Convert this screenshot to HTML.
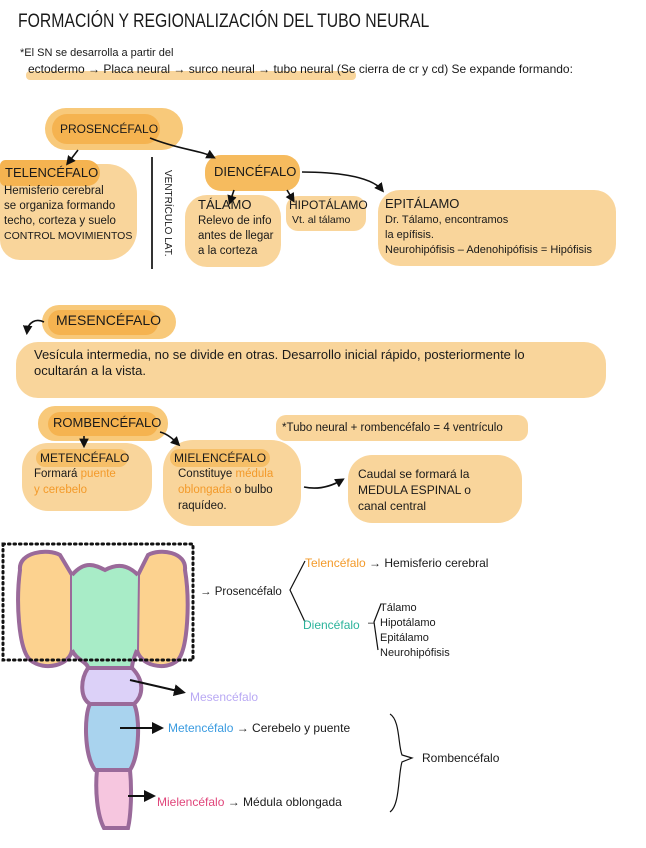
<!DOCTYPE html>
<html><head><meta charset="utf-8"><style>
body{margin:0;width:646px;height:848px;background:#fff;position:relative;overflow:hidden;font-family:"Liberation Sans Narrow","Liberation Sans",sans-serif;color:#1a1a1a}
.t{position:absolute;white-space:nowrap;font-size:11px;line-height:14px}
.b{position:absolute;background:#f9d59b}
.d{position:absolute;background:#f5b350}
svg{position:absolute;left:0;top:0}
</style></head><body>
<svg width="646" height="848">
<rect x="26" y="71" width="330" height="9" rx="4" fill="#f9d59b"/>
</svg>
<div class="t" style="left:18px;top:10px;font-size:19px;line-height:24px;transform:scaleX(0.83);transform-origin:0 0">FORMACIÓN Y REGIONALIZACIÓN DEL TUBO NEURAL</div>
<div class="t" style="left:20px;top:46px;font-size:11px">*El SN se desarrolla a partir del</div>
<div class="t" style="left:28px;top:62px;font-size:12px">ectodermo → Placa neural → surco neural → tubo neural (Se cierra de cr y cd) Se expande formando:</div>

<div class="b" style="left:45px;top:108px;width:138px;height:42px;border-radius:22px;background:#f8c97a"></div>
<div class="d" style="left:52px;top:114px;width:108px;height:30px;border-radius:16px"></div>
<div class="t" style="left:60px;top:122px;font-size:12px">PROSENCÉFALO</div>
<div class="b" style="left:0;top:164px;width:137px;height:96px;border-radius:6px 30px 30px 20px"></div>
<div class="d" style="left:0;top:160px;width:100px;height:26px;border-radius:6px 14px 14px 6px"></div>
<div class="t" style="left:5px;top:166px;font-size:13px">TELENCÉFALO</div>
<div class="t" style="left:4px;top:184px;font-size:11.5px;line-height:15px">Hemisferio cerebral<br>se organiza formando<br>techo, corteza y suelo<br><span style="font-size:10.5px">CONTROL MOVIMIENTOS</span></div>
<div style="position:absolute;left:151px;top:157px;width:2px;height:112px;background:#333"></div>
<div class="t" style="left:160px;top:170px;font-size:10px;writing-mode:vertical-rl">VENTRÍCULO LAT.</div>
<div class="d" style="left:205px;top:155px;width:95px;height:36px;border-radius:16px;background:#f6bb5e"></div>
<div class="t" style="left:214px;top:165px;font-size:13px">DIENCÉFALO</div>
<div class="b" style="left:185px;top:195px;width:96px;height:72px;border-radius:22px"></div>
<div class="t" style="left:198px;top:198px;font-size:13px">TÁLAMO</div>
<div class="t" style="left:198px;top:214px;font-size:11.5px;line-height:15px">Relevo de info<br>antes de llegar<br>a la corteza</div>
<div class="b" style="left:286px;top:196px;width:80px;height:35px;border-radius:12px"></div>
<div class="t" style="left:289px;top:198px;font-size:12px">HIPOTÁLAMO</div>
<div class="t" style="left:292px;top:213px;font-size:10.5px">Vt. al tálamo</div>
<div class="b" style="left:378px;top:190px;width:238px;height:76px;border-radius:22px"></div>
<div class="t" style="left:385px;top:197px;font-size:13px">EPITÁLAMO</div>
<div class="t" style="left:385px;top:213px;font-size:11px;line-height:15px">Dr. Tálamo, encontramos<br>la epífisis.<br>Neurohipófisis – Adenohipófisis = Hipófisis</div>

<div class="b" style="left:42px;top:305px;width:134px;height:34px;border-radius:17px;background:#f8c97a"></div>
<div class="d" style="left:48px;top:310px;width:110px;height:25px;border-radius:12px"></div>
<div class="t" style="left:56px;top:313px;font-size:14px">MESENCÉFALO</div>
<div class="b" style="left:16px;top:342px;width:590px;height:56px;border-radius:22px"></div>
<div class="t" style="left:34px;top:347px;font-size:13px;line-height:16px">Vesícula intermedia, no se divide en otras. Desarrollo inicial rápido, posteriormente lo<br>ocultarán a la vista.</div>

<div class="b" style="left:38px;top:406px;width:130px;height:35px;border-radius:17px;background:#f8c97a"></div>
<div class="d" style="left:48px;top:412px;width:110px;height:24px;border-radius:12px"></div>
<div class="t" style="left:53px;top:416px;font-size:13px">ROMBENCÉFALO</div>
<div class="b" style="left:276px;top:415px;width:252px;height:26px;border-radius:10px"></div>
<div class="t" style="left:282px;top:421px;font-size:11.5px">*Tubo neural + rombencéfalo = 4 ventrículo</div>
<div class="b" style="left:22px;top:443px;width:130px;height:68px;border-radius:26px"></div>
<div class="d" style="left:36px;top:449px;width:92px;height:18px;border-radius:9px;background:#f6bf68"></div>
<div class="t" style="left:40px;top:451px;font-size:12px">METENCÉFALO</div>
<div class="t" style="left:34px;top:466px;font-size:11.5px;line-height:16px">Formará <span style="color:#f39a2a">puente</span><br><span style="color:#f39a2a">y cerebelo</span></div>
<div class="b" style="left:163px;top:440px;width:138px;height:86px;border-radius:30px"></div>
<div class="d" style="left:170px;top:449px;width:100px;height:18px;border-radius:9px;background:#f6bf68"></div>
<div class="t" style="left:174px;top:451px;font-size:12px">MIELENCÉFALO</div>
<div class="t" style="left:178px;top:466px;font-size:11.5px;line-height:16px">Constituye <span style="color:#f39a2a">médula</span><br><span style="color:#f39a2a">oblongada</span> o bulbo<br>raquídeo.</div>
<div class="b" style="left:348px;top:455px;width:174px;height:68px;border-radius:24px"></div>
<div class="t" style="left:358px;top:466px;font-size:12px;line-height:16px">Caudal se formará la<br>MEDULA ESPINAL o<br>canal central</div>

<svg width="646" height="848">
<defs><marker id="a" markerWidth="6" markerHeight="6" refX="4" refY="3" orient="auto"><path d="M0,0L6,3L0,6z" fill="#111"/></marker></defs>
<g stroke="#111" stroke-width="1.6" fill="none">
<path d="M78,150 L68,163" marker-end="url(#a)"/>
<path d="M150,138 C180,150 200,150 213,157" marker-end="url(#a)"/>
<path d="M234,190 L230,202" marker-end="url(#a)"/>
<path d="M287,190 L293,200" marker-end="url(#a)"/>
<path d="M302,172 C330,172 370,175 382,190" marker-end="url(#a)"/>
<path d="M44,322 C36,318 28,322 27,332" marker-end="url(#a)"/>
<path d="M84,436 L84,445" marker-end="url(#a)"/>
<path d="M160,432 C168,434 174,440 178,444" marker-end="url(#a)"/>
<path d="M304,487 C318,490 330,487 342,480" marker-end="url(#a)"/>
</g>
<g stroke="#9a6a9a" stroke-width="4">
<path d="M20,570 C18,552 48,548 60,555 L72,575 L72,650 C70,665 45,672 30,660 C18,648 16,600 20,570Z" fill="#fcd28f"/>
<path d="M185,570 C187,552 160,548 148,555 L138,575 L137,650 C140,665 165,672 178,660 C188,648 190,600 185,570Z" fill="#fcd28f"/>
<path d="M72,575 C85,560 95,565 105,570 C118,563 128,565 138,575 L137,650 C133,660 132,664 132,668 L88,668 C88,662 76,660 72,650Z" fill="#a8ecc7" stroke="none"/>
<path d="M72,575 C85,560 95,565 105,570 C118,563 128,565 138,575 M72,650 C76,660 88,662 88,668 M137,650 C133,660 132,664 132,668" fill="none"/>
<path d="M88,668 C80,680 80,698 90,704 L134,704 C144,695 144,680 132,668Z" fill="#dcd1f8"/>
<path d="M90,704 C84,715 84,755 95,770 L130,770 C140,755 140,715 134,704Z" fill="#a9d3ee"/>
<path d="M97,770 C95,790 97,815 104,828 L128,828 C131,815 132,790 130,770Z" fill="#f6c6df"/>
</g>
<rect x="3" y="544" width="190" height="116" fill="none" stroke="#111" stroke-width="3" stroke-dasharray="1.5 4" stroke-linecap="round"/>
<g stroke="#111" stroke-width="2" fill="none">
<path d="M130,680 L182,692" marker-end="url(#a)"/>
<path d="M120,728 L160,728" marker-end="url(#a)"/>
<path d="M128,796 L152,796" marker-end="url(#a)"/>
</g>
<g stroke="#111" stroke-width="1.2" fill="none">
<path d="M305,561 L290,590 L305,622"/>
<path d="M381,604 L374,622 L378,650"/>
<path d="M390,714 C400,720 398,745 402,755 L412,758 L402,762 C398,775 400,805 390,812"/>
</g>
</svg>
<div class="t" style="left:200px;top:585px;font-size:11.5px">→ Prosencéfalo</div>
<div class="t" style="left:305px;top:556px;font-size:12px"><span style="color:#f39a2a">Telencéfalo</span> → Hemisferio cerebral</div>
<div class="t" style="left:303px;top:618px;font-size:12px;color:#2bb39b">Diencéfalo</div>
<div class="t" style="left:368px;top:616px;font-size:11px">–</div>
<div class="t" style="left:380px;top:601px;font-size:11px;line-height:15px">Tálamo<br>Hipotálamo<br>Epitálamo<br>Neurohipófisis</div>
<div class="t" style="left:190px;top:690px;font-size:12px;color:#b9a9f4">Mesencéfalo</div>
<div class="t" style="left:168px;top:721px;font-size:12px"><span style="color:#3a9be0">Metencéfalo</span> → Cerebelo y puente</div>
<div class="t" style="left:422px;top:751px;font-size:12px">Rombencéfalo</div>
<div class="t" style="left:157px;top:795px;font-size:12px"><span style="color:#e0457a">Mielencéfalo</span> → Médula oblongada</div>
</body></html>
